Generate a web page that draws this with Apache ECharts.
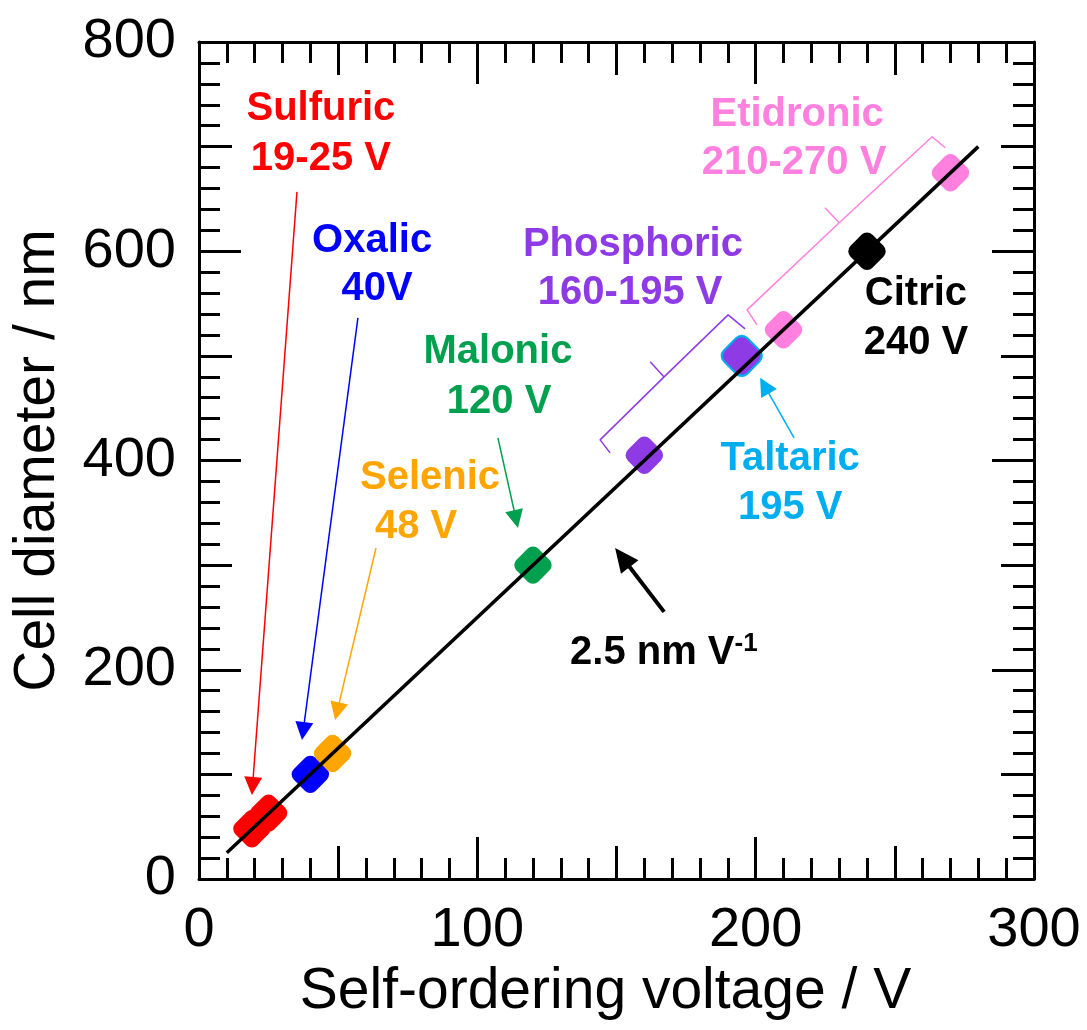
<!DOCTYPE html>
<html>
<head>
<meta charset="utf-8">
<script src="https://cdn.jsdelivr.net/npm/echarts@6/dist/echarts.min.js"></script>
<style>
html,body{margin:0;padding:0;background:#fff;}
#main{width:1087px;height:1030px;}
</style>
</head>
<body>
<div id="main"></div>
<script>
// values: [voltage V, cell diameter nm]
var sulfuric   = [[19, 48], [25, 63]];
var oxalic     = [[40, 100]];
var selenic    = [[48, 120]];
var malonic    = [[120, 300]];
var phosphoric = [[160, 405], [195, 500]];
var taltaric   = [[195, 500]];
var etidronic  = [[210, 525], [270, 675]];
var citric     = [[240, 600]];
var fitLine    = [[10, 25], [280, 700]];
var xTicks = [0, 100, 200, 300];
var yTicks = [0, 200, 400, 600, 800];

var FONT = '"Liberation Sans", Arial, Helvetica, sans-serif';
var RED = '#ff0000', BLUE = '#0000ff', ORANGE = '#ffa500', GREEN = '#00a04e',
    PURPLE = '#8e3be6', PINK = '#ff80df', CYAN = '#00aeef', BLACK = '#000000';

// annotations, in data coordinates
var arrows = [
  {from: [35.2, 656.8], to: [19.0, 80.3],  color: RED},
  {from: [57.1, 536.3], to: [37.0, 132.9], color: BLUE},
  {from: [63.6, 316.4], to: [48.9, 152.0], color: ORANGE},
  {from: [107.4, 421.6], to: [114.6, 335.6], color: GREEN},
  {from: [213.8, 421.6], to: [201.6, 479.0], color: CYAN},
  {from: [167.1, 255.3], to: [149.5, 316.4], color: BLACK, bold: true}
];
var purpleBracket = [[147.7, 407.3], [144.1, 419.7], [167.1, 479.9], [162.1, 494.3],
                     [167.1, 479.9], [190.1, 539.2], [196.2, 525.8]];
var pinkBracket = [[200.5, 529.6], [196.9, 544.0], [230.0, 627.2], [224.9, 641.5],
                   [230.0, 627.2], [263.4, 709.4], [268.1, 698.9]];
var labels = [
  ['Sulfuric', 43.8, 736.1, RED], ['19-25 V', 43.8, 688.3, RED],
  ['Oxalic', 62.2, 609.9, BLUE], ['40V', 64.0, 564.1, BLUE],
  ['Malonic', 107.4, 503.8, GREEN], ['120 V', 107.8, 456.0, GREEN],
  ['Selenic', 83.0, 383.4, ORANGE], ['48 V', 78.0, 336.5, ORANGE],
  ['Phosphoric', 155.9, 606.1, PURPLE], ['160-195 V', 154.9, 560.2, PURPLE],
  ['Etidronic', 214.9, 730.4, PINK], ['210-270 V', 213.8, 684.5, PINK],
  ['Citric', 257.6, 559.3, BLACK], ['240 V', 257.6, 512.4, BLACK],
  ['Taltaric', 212.4, 401.5, CYAN], ['195 V', 212.4, 354.7, CYAN]
];
var slopeLabel = [133.3, 216.1];

function tickAxis(pos, min, max, interval, len, main) {
  var ax = {
    type: 'value', position: pos, min: min, max: max, interval: interval,
    axisLine: {show: main, onZero: false, lineStyle: {color: '#000', width: 3}},
    axisTick: {show: true, inside: true, length: len, lineStyle: {color: '#000', width: 3}},
    axisLabel: {show: false},
    splitLine: {show: false}
  };
  if (main) {
    ax.minorTick = {show: true, splitNumber: 10, length: 21, lineStyle: {color: '#000', width: 3}};
    ax.minorSplitLine = {show: false};
  }
  return ax;
}

var xMin = xTicks[0], xMax = xTicks[xTicks.length - 1], xStep = xTicks[1] - xTicks[0];
var yMin = yTicks[0], yMax = yTicks[yTicks.length - 1], yStep = yTicks[1] - yTicks[0];

var xBottom = tickAxis('bottom', xMin, xMax, xStep, 42, true);
xBottom.axisLabel = {show: true, fontSize: 56, color: '#000', fontFamily: FONT, margin: 24};
xBottom.name = 'Self-ordering voltage / V';
xBottom.nameLocation = 'middle';
xBottom.nameGap = 84;
xBottom.nameTextStyle = {fontSize: 57, color: '#000', fontFamily: FONT, padding: [0, 22, 0, 0]};

var yLeft = tickAxis('left', yMin, yMax, yStep, 42, true);
yLeft.axisLabel = {show: true, fontSize: 56, color: '#000', fontFamily: FONT, margin: 23};
yLeft.name = 'Cell diameter / nm';
yLeft.nameLocation = 'middle';
yLeft.nameGap = 132;
yLeft.nameTextStyle = {fontSize: 57, color: '#000', fontFamily: FONT};

function diamond(name, data, color, size, z) {
  return {
    name: name, type: 'scatter', data: data,
    symbol: 'roundRect', symbolSize: size, symbolRotate: 45,
    itemStyle: {color: color, opacity: 1}, z: z, silent: true
  };
}

var option = {
  animation: false,
  backgroundColor: '#fff',
  grid: {left: 199, right: 53, top: 42, bottom: 151},
  xAxis: [
    xBottom,
    tickAxis('bottom', xMin, xMax, 50, 33, false),
    tickAxis('top', xMin, xMax, xStep, 42, true),
    tickAxis('top', xMin, xMax, 50, 33, false)
  ],
  yAxis: [
    yLeft,
    tickAxis('left', yMin, yMax, 100, 33, false),
    tickAxis('right', yMin, yMax, yStep, 42, true),
    tickAxis('right', yMin, yMax, 100, 33, false)
  ],
  series: [
    diamond('Taltaric', taltaric, CYAN, 35, 2),
    diamond('Sulfuric', sulfuric, RED, 31, 3),
    diamond('Oxalic', oxalic, BLUE, 31, 3),
    diamond('Selenic', selenic, ORANGE, 31, 3),
    diamond('Malonic', malonic, GREEN, 31, 3),
    diamond('Phosphoric', phosphoric, PURPLE, 31, 3),
    diamond('Etidronic', etidronic, PINK, 31, 3),
    diamond('Citric', citric, BLACK, 31, 3),
    {
      type: 'line', data: fitLine, showSymbol: false, z: 6, silent: true,
      lineStyle: {color: '#000', width: 3.5}
    },
    {
      type: 'line', data: purpleBracket, showSymbol: false, z: 4, silent: true,
      lineStyle: {color: PURPLE, width: 1.5}
    },
    {
      type: 'line', data: pinkBracket, showSymbol: false, z: 4, silent: true,
      lineStyle: {color: PINK, width: 1.5}
    },
    {
      type: 'custom', z: 7, silent: true,
      data: arrows.map(function (a) {
        return {value: [a.from[0], a.from[1], a.to[0], a.to[1]], itemStyle: {color: a.color}};
      }),
      renderItem: function (params, api) {
        var p1 = api.coord([api.value(0), api.value(1)]);
        var p2 = api.coord([api.value(2), api.value(3)]);
        var a = arrows[params.dataIndex];
        var L = a.bold ? 24 : 18, W = a.bold ? 11 : 9, lw = a.bold ? 4 : 1.5;
        var dx = p2[0] - p1[0], dy = p2[1] - p1[1];
        var d = Math.sqrt(dx * dx + dy * dy);
        var ux = dx / d, uy = dy / d;
        var bx = p2[0] - ux * L, by = p2[1] - uy * L;
        return {
          type: 'group',
          children: [
            {type: 'line', shape: {x1: p1[0], y1: p1[1], x2: bx + ux * 2, y2: by + uy * 2},
             style: {stroke: a.color, lineWidth: lw}},
            {type: 'polygon',
             shape: {points: [[p2[0], p2[1]], [bx - uy * W, by + ux * W], [bx + uy * W, by - ux * W]]},
             style: {fill: a.color}}
          ]
        };
      }
    }
  ]
};

var chart = echarts.init(document.getElementById('main'));
chart.setOption(option);

// text annotations placed through the grid's coordinate system
var graphics = labels.map(function (l) {
  var p = chart.convertToPixel({gridIndex: 0}, [l[1], l[2]]);
  return {
    type: 'text', x: p[0], y: p[1], z: 100, silent: true,
    style: {
      text: l[0], fill: l[3], font: 'bold 40px ' + FONT,
      textAlign: 'center', textVerticalAlign: 'middle'
    }
  };
});
var sp = chart.convertToPixel({gridIndex: 0}, slopeLabel);
graphics.push({
  type: 'text', x: sp[0], y: sp[1], z: 100, silent: true,
  style: {
    text: '{a|2.5 nm V}{s|-1}',
    textAlign: 'left', textVerticalAlign: 'middle',
    rich: {
      a: {fontSize: 40, fontWeight: 'bold', fontFamily: FONT, fill: '#000', lineHeight: 44},
      s: {fontSize: 26, fontWeight: 'bold', fontFamily: FONT, fill: '#000', lineHeight: 26, verticalAlign: 'top'}
    }
  }
});
chart.setOption({graphic: graphics});
</script>
</body>
</html>
